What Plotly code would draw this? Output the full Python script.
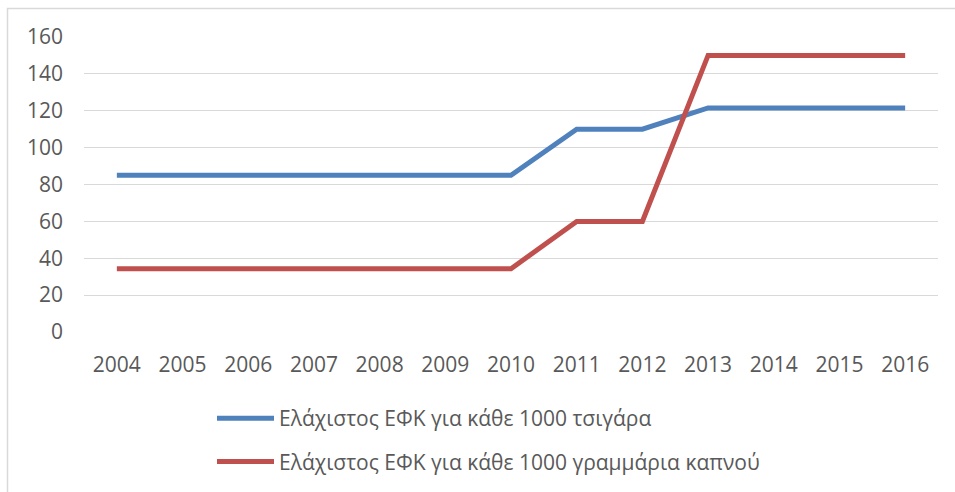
import plotly.graph_objects as go

years = [str(y) for y in range(2004, 2017)]
cigarettes = [85, 85, 85, 85, 85, 85, 85, 110, 110, 121.5, 121.5, 121.5, 121.5]
tobacco = [34.3, 34.3, 34.3, 34.3, 34.3, 34.3, 34.3, 60, 60, 150, 150, 150, 150]
series_names = [
    "Ελάχιστος ΕΦΚ για κάθε 1000 τσιγάρα",
    "Ελάχιστος ΕΦΚ για κάθε 1000 γραμμάρια καπνού",
]
series_colors = ["#4f81bd", "#c0504d"]

W, H = 955, 492
L, R, T, B = 84, 17, 37, 160
pw, ph = W - L - R, H - T - B

FONT = "Open Sans"
TXT = "#595959"


def px_x(px):
    return (px - L) / pw


def px_y(py):
    return (H - B - py) / ph


fig = go.Figure()
for i, (name, vals, col) in enumerate(zip(series_names, [cigarettes, tobacco], series_colors)):
    fig.add_trace(go.Scatter(
        x=years, y=vals, name=name, mode="lines", legendgroup=f"g{i}",
        line=dict(color=col, width=5),
    ))

# outer chart frame (runs past the right and bottom edges)
fig.add_shape(
    type="rect", xref="paper", yref="paper", layer="below",
    x0=px_x(7.5), x1=px_x(W + 20), y0=px_y(H + 20), y1=px_y(8.5),
    line=dict(color="#d9d9d9", width=1.5), fillcolor="rgba(0,0,0,0)",
)

fig.update_layout(
    width=W, height=H,
    margin=dict(l=L, r=R, t=T, b=B, autoexpand=False),
    paper_bgcolor="white", plot_bgcolor="white",
    font=dict(family=FONT, size=21, color=TXT),
    showlegend=True,
    legend=dict(
        orientation="v", xref="container", x=212 / W, xanchor="left",
        yref="container", y=1 - 398 / H, yanchor="top",
        font=dict(family=FONT, size=21, color=TXT),
        itemwidth=57, tracegroupgap=13,
        bgcolor="rgba(0,0,0,0)",
    ),
    xaxis=dict(
        type="category", range=[-0.5, len(years) - 0.5],
        showgrid=False, zeroline=False, showline=False,
        ticks="", ticklabelstandoff=18,
        tickfont=dict(family=FONT, size=21, color=TXT),
    ),
    yaxis=dict(
        range=[0, 160], dtick=20, showgrid=True, gridcolor="#d9d9d9",
        gridwidth=1.3, zeroline=False, showline=False, ticks="",
        ticklabelstandoff=20,
        tickfont=dict(family=FONT, size=21, color=TXT),
    ),
)

fig.write_html("out.html")
